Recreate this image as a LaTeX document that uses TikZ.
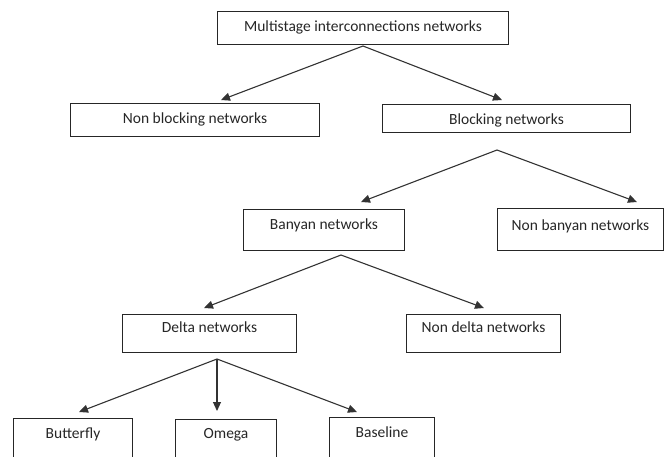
\documentclass[tikz,border=0pt]{standalone}
\usepackage{fontspec}
\setmainfont{Carlito}
\usetikzlibrary{arrows.meta}
\begin{document}
\begin{tikzpicture}[x=1pt,y=-1pt,
  box/.style={draw=black!85, line width=1pt, inner sep=0pt, anchor=north west,
    font=\fontsize{15.5}{18}\selectfont, text=black!85},
  arr/.style={draw=black!80, line width=1.1pt, -{Triangle[length=9pt,width=8pt]}}]
\useasboundingbox (0,0) rectangle (664,456);
\clip (0,0) rectangle (664,456);

\node[box, minimum width=291pt, text height=20pt, text depth=13pt] (mi) at (217,11) {Multistage interconnections networks};
\node[box, minimum width=249pt, text height=20pt, text depth=13pt] (nb) at (70,103) {Non blocking networks};
\node[box, minimum width=248pt, text height=20pt, text depth=8pt] (bl) at (382,104) {Blocking networks};
\node[box, minimum width=161pt, text height=20pt, text depth=21pt] (ba) at (243,209) {Banyan networks};
\node[box, minimum width=166pt, text height=22pt, text depth=20pt] (nba) at (497,208) {Non banyan networks};
\node[box, minimum width=174pt, text height=18pt, text depth=20pt] (de) at (122,314) {Delta networks};
\node[box, minimum width=154pt, text height=18pt, text depth=20pt] (nde) at (406,314) {Non delta networks};
\node[box, minimum width=119pt, text height=20pt, text depth=30pt] (bu) at (13,418) {Butterfly};
\node[box, minimum width=101pt, text height=19pt, text depth=30pt] (om) at (175,419) {Omega};
\node[box, minimum width=105pt, text height=20pt, text depth=30pt] (bs) at (329,417) {Baseline};

% fork points
\coordinate (f1) at (363,46);
\coordinate (f2) at (497,150);
\coordinate (f3) at (341,255);
\coordinate (f4) at (217,359);
% arrow tips
\coordinate (t1) at (221,100);
\coordinate (t2) at (502,100);
\coordinate (t3) at (361,202);
\coordinate (t4) at (637,202);
\coordinate (t5) at (204,308);
\coordinate (t6) at (484,308);
\coordinate (t7) at (79,412);
\coordinate (t8) at (217,411);
\coordinate (t9) at (357,412);

\draw[arr] (f1) -- (t1);
\draw[arr] (f1) -- (t2);
\draw[arr] (f2) -- (t3);
\draw[arr] (f2) -- (t4);
\draw[arr] (f3) -- (t5);
\draw[arr] (f3) -- (t6);
\draw[arr] (f4) -- (t7);
\draw[arr] (f4) -- (t8);
\draw[arr] (f4) -- (t9);
\end{tikzpicture}
\end{document}
